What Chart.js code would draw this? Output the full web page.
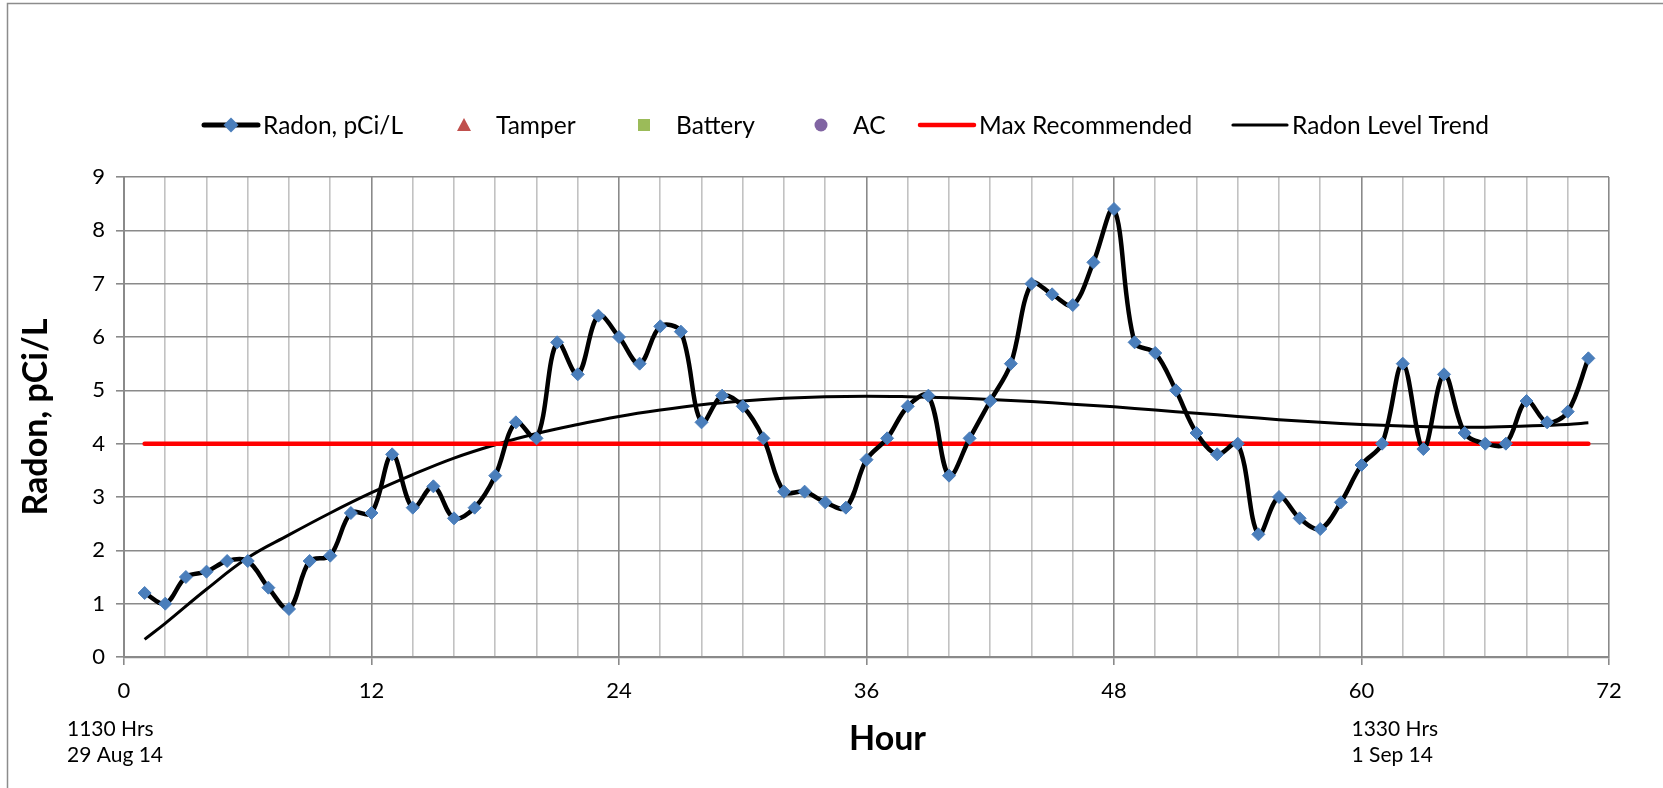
<!DOCTYPE html>
<html>
<head>
<meta charset="utf-8">
<script src="https://cdn.jsdelivr.net/npm/chart.js@4.4.1/dist/chart.umd.min.js"></script>
<style>
  html, body { margin: 0; padding: 0; background: #ffffff; }
  #wrap { width: 1663px; height: 788px; position: relative; }
  canvas { display: block; }
</style>
</head>
<body>
<div id="wrap"><canvas id="chart" width="1663" height="788"></canvas></div>
<script>
// ---------- DATA ----------
const hours = [1,2,3,4,5,6,7,8,9,10,11,12,13,14,15,16,17,18,19,20,21,22,23,24,25,26,27,28,29,30,31,32,33,34,35,36,37,38,39,40,41,42,43,44,45,46,47,48,49,50,51,52,53,54,55,56,57,58,59,60,61,62,63,64,65,66,67,68,69,70,71];
const radonValues = [1.2,1.0,1.5,1.6,1.8,1.8,1.3,0.9,1.8,1.9,2.7,2.7,3.8,2.8,3.2,2.6,2.8,3.4,4.4,4.1,5.9,5.3,6.4,6.0,5.5,6.2,6.1,4.4,4.9,4.7,4.1,3.1,3.1,2.9,2.8,3.7,4.1,4.7,4.9,3.4,4.1,4.8,5.5,7.0,6.8,6.6,7.4,8.4,5.9,5.7,5.0,4.2,3.8,4.0,2.3,3.0,2.6,2.4,2.9,3.6,4.0,5.5,3.9,5.3,4.2,4.0,4.0,4.8,4.4,4.6,5.6];
const trendHours = [1,2,4,6,8,10,12,14,16,18,20,22,24,26,28,30,32,34,36,38,40,42,44,46,48,50,52,54,56,58,60,62,64,66,68,70,71];
const trendValues = [0.33,0.63,1.27,1.86,2.29,2.70,3.08,3.42,3.73,3.98,4.19,4.36,4.51,4.63,4.73,4.80,4.85,4.88,4.89,4.88,4.86,4.83,4.79,4.74,4.69,4.63,4.57,4.51,4.45,4.40,4.36,4.33,4.31,4.31,4.33,4.36,4.39];
const maxRecHours = [1, 71];
const maxRecValues = [4, 4];
const tamperValues = [];
const batteryValues = [];
const acValues = [];
const xTickLabels = [0, 12, 24, 36, 48, 60, 72];
const yTickLabels = [0, 1, 2, 3, 4, 5, 6, 7, 8, 9];
const startLabel = ['1130 Hrs', '29 Aug 14'];
const endLabel = ['1330 Hrs', '1 Sep 14'];
const xTitle = 'Hour';
const yTitle = 'Radon, pCi/L';

const pairs = (xs, ys) => xs.map((x, i) => ({ x: x, y: ys[i] }));

// ---------- STYLE / LAYOUT ----------
const FONT = 'Lato, "Open Sans", sans-serif';
const GRID_DARK = '#8a8a8a';
const GRID_LIGHT = '#c2c2c2';
const LEGEND_SLOT_X = [202, 435, 615, 792, 918, 1231]; // legend entry start positions (layout)

// Custom legend (Excel-like, line + marker symbols)
const legendPlugin = {
  id: 'excelLegend',
  afterDraw(chart) {
    const ctx = chart.ctx;
    const y = 125;
    const symW = 58;
    ctx.save();
    ctx.font = '24.5px ' + FONT;
    ctx.textBaseline = 'middle';
    ctx.textAlign = 'left';
    chart.data.datasets.forEach((ds, i) => {
      const s = ds.legendSymbol;
      const x = LEGEND_SLOT_X[i];
      const cx = x + symW / 2;
      if (s.line) {
        ctx.strokeStyle = s.line;
        ctx.lineWidth = s.lineWidth;
        ctx.lineCap = 'round';
        ctx.beginPath();
        ctx.moveTo(x + 2, y);
        ctx.lineTo(x + symW - 2, y);
        ctx.stroke();
      }
      if (s.marker) {
        ctx.fillStyle = s.markerColor;
        ctx.beginPath();
        if (s.marker === 'diamond') {
          const r = 7.5;
          ctx.moveTo(cx - r, y); ctx.lineTo(cx, y - r); ctx.lineTo(cx + r, y); ctx.lineTo(cx, y + r);
        } else if (s.marker === 'triangle') {
          ctx.moveTo(cx - 7, y + 6); ctx.lineTo(cx, y - 7); ctx.lineTo(cx + 7, y + 6);
        } else if (s.marker === 'square') {
          ctx.rect(cx - 6, y - 6, 12, 12);
        } else if (s.marker === 'circle') {
          ctx.arc(cx, y, 6.5, 0, Math.PI * 2);
        }
        ctx.closePath();
        ctx.fill();
      }
      ctx.fillStyle = '#000';
      ctx.fillText(ds.label, x + symW + 3, y + 1);
    });
    ctx.restore();
  }
};

// Frame, date annotations and x-axis title
const annotPlugin = {
  id: 'annot',
  beforeDraw(chart) {
    const ctx = chart.ctx;
    ctx.save();
    ctx.fillStyle = '#fff';
    ctx.fillRect(0, 0, chart.width, chart.height);
    ctx.strokeStyle = '#8c8c8c';
    ctx.lineWidth = 1.5;
    ctx.strokeRect(7.5, 3.5, chart.width + 20, chart.height + 20);
    ctx.restore();
  },
  afterDraw(chart) {
    const ctx = chart.ctx;
    const xs = chart.scales.x;
    const area = chart.chartArea;
    ctx.save();
    ctx.fillStyle = '#000';
    ctx.textBaseline = 'middle';
    ctx.font = '21px ' + FONT;
    ctx.textAlign = 'left';
    const x0 = xs.getPixelForValue(xTickLabels[0]) - 57;
    const x1 = xs.getPixelForValue(xTickLabels[5]) - 10;
    ctx.fillText(startLabel[0], x0, area.bottom + 72);
    ctx.fillText(startLabel[1], x0, area.bottom + 98);
    ctx.fillText(endLabel[0], x1, area.bottom + 72);
    ctx.fillText(endLabel[1], x1, area.bottom + 98);
    ctx.font = 'bold 34px ' + FONT;
    ctx.textAlign = 'center';
    ctx.fillText(xTitle, (area.left + area.right) / 2 + 21, area.bottom + 82);
    ctx.restore();
  }
};

const chart = new Chart(document.getElementById('chart'), {
  type: 'line',
  data: {
    datasets: [
      {
        label: 'Radon, pCi/L',
        data: pairs(hours, radonValues),
        borderColor: '#000000',
        borderWidth: 4.5,
        tension: 0.35,
        pointStyle: 'rectRot',
        pointRadius: 6.5,
        pointBackgroundColor: '#4a7ebb',
        pointBorderColor: '#4a7ebb',
        pointBorderWidth: 1,
        legendSymbol: { line: '#000', lineWidth: 5, marker: 'diamond', markerColor: '#4a7ebb' }
      },
      {
        label: 'Tamper',
        data: tamperValues,
        showLine: false,
        pointStyle: 'triangle',
        backgroundColor: '#c0504d',
        legendSymbol: { marker: 'triangle', markerColor: '#c0504d' }
      },
      {
        label: 'Battery',
        data: batteryValues,
        showLine: false,
        pointStyle: 'rect',
        backgroundColor: '#9bbb59',
        legendSymbol: { marker: 'square', markerColor: '#9bbb59' }
      },
      {
        label: 'AC',
        data: acValues,
        showLine: false,
        pointStyle: 'circle',
        backgroundColor: '#8064a2',
        legendSymbol: { marker: 'circle', markerColor: '#8064a2' }
      },
      {
        label: 'Max Recommended',
        data: pairs(maxRecHours, maxRecValues),
        borderColor: '#ff0000',
        borderWidth: 4.5,
        pointRadius: 0,
        borderCapStyle: 'round',
        legendSymbol: { line: '#ff0000', lineWidth: 4.5 }
      },
      {
        label: 'Radon Level Trend',
        data: pairs(trendHours, trendValues),
        borderColor: '#000000',
        borderWidth: 3,
        pointRadius: 0,
        tension: 0.4,
        legendSymbol: { line: '#000', lineWidth: 3.2 }
      }
    ]
  },
  options: {
    responsive: false,
    animation: false,
    events: [],
    layout: { padding: { top: 177, left: 0, right: 54, bottom: 0 } },
    plugins: {
      legend: { display: false },
      tooltip: { enabled: false },
      title: { display: false }
    },
    scales: {
      x: {
        type: 'linear',
        min: 0,
        max: 72,
        afterFit: s => { s.height = 131; },
        afterBuildTicks: s => {
          const t = [];
          for (let v = 0; v <= 72; v += 2) t.push({ value: v });
          s.ticks = t;
        },
        ticks: {
          autoSkip: false,
          maxRotation: 0,
          padding: 13,
          color: '#000',
          font: { family: FONT, size: 22 },
          callback: v => (xTickLabels.includes(v) ? String(v) : '')
        },
        grid: {
          color: c => (c.tick && c.tick.value % 12 === 0 ? GRID_DARK : GRID_LIGHT),
          tickColor: c => (c.tick && c.tick.value % 12 === 0 ? GRID_DARK : 'rgba(0,0,0,0)'),
          lineWidth: 1.6,
          tickLength: 8
        },
        border: { color: GRID_DARK, width: 2.2 }
      },
      y: {
        min: 0,
        max: 9,
        afterFit: s => { s.width = 124; },
        afterBuildTicks: s => { s.ticks = yTickLabels.map(v => ({ value: v })); },
        ticks: {
          padding: 11,
          color: '#000',
          font: { family: FONT, size: 22 }
        },
        grid: {
          color: GRID_DARK,
          lineWidth: 1.6,
          tickLength: 8
        },
        border: { color: GRID_DARK, width: 2 },
        title: {
          display: true,
          text: yTitle,
          color: '#000',
          font: { family: FONT, size: 34, weight: 'bold' },
          padding: { top: 16, bottom: 0 }
        }
      }
    }
  },
  plugins: [annotPlugin, legendPlugin]
});
</script>
</body>
</html>
